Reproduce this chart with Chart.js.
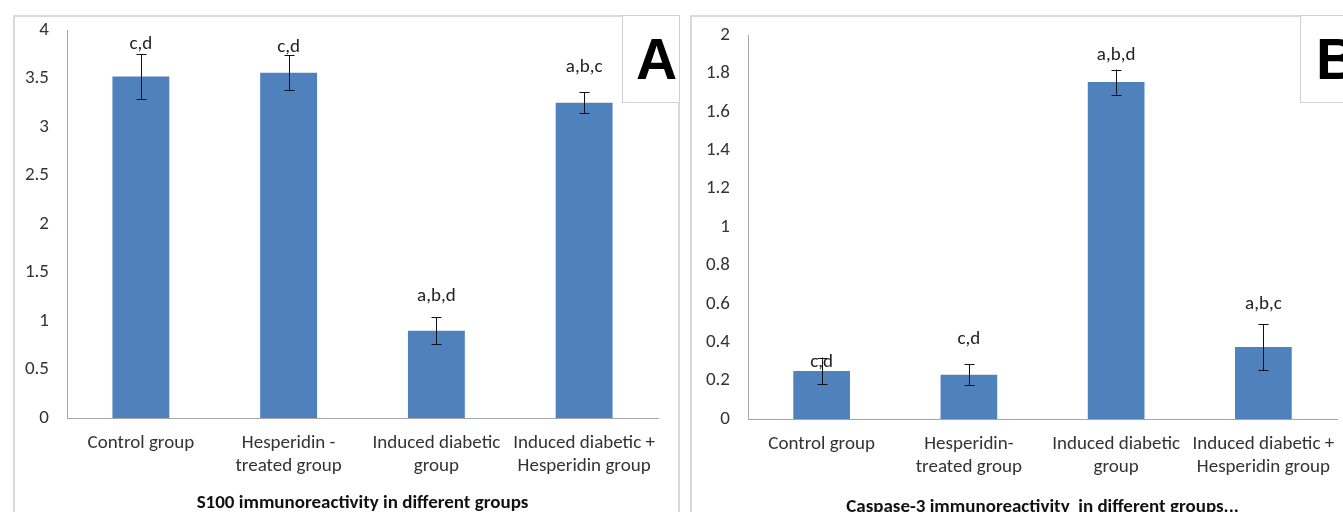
<!DOCTYPE html>
<html>
<head>
<meta charset="utf-8">
<script src="https://cdn.jsdelivr.net/npm/chart.js@4"></script>
<style>
  body { margin:0; width:1343px; height:512px; overflow:hidden; background:#fff; position:relative; }
  .frame { position:absolute; border:2px solid #d9d9d9; box-sizing:border-box; }
  .tag { position:absolute; background:#fff; border:1px solid #d0d0d0; box-sizing:border-box;
         font:bold 57px "Liberation Sans", Arial, sans-serif; color:#000; line-height:86px; }
  canvas { position:absolute; }
</style>
</head>
<body>
<div class="frame" style="left:13px;top:15px;width:667px;height:520px"></div>
<div class="frame" style="left:690px;top:15px;width:680px;height:520px"></div>
<canvas id="chartA" style="left:14px;top:0px"></canvas>
<canvas id="chartB" style="left:691px;top:0px"></canvas>
<div class="tag" style="left:622px;top:15px;width:58px;height:88px;padding-left:13px">A</div>
<div class="tag" style="left:1300px;top:15px;width:60px;height:88px;padding-left:15px">B</div>
<script>
var groupsA = [['Control group'], ['Hesperidin -', 'treated group'], ['Induced diabetic', 'group'], ['Induced diabetic +', 'Hesperidin group']];
var groupsB = [['Control group'], ['Hesperidin-', 'treated group'], ['Induced diabetic', 'group'], ['Induced diabetic +', 'Hesperidin group']];

var s100 = [3.52, 3.56, 0.90, 3.25];
var s100Err = [0.23, 0.18, 0.14, 0.11];
var s100Marks = ['c,d', 'c,d', 'a,b,d', 'a,b,c'];

var casp = [0.25, 0.23, 1.755, 0.375];
var caspErr = [0.07, 0.055, 0.065, 0.12];
var caspMarks = ['c,d', 'c,d', 'a,b,d', 'a,b,c'];

var fontFam = 'Carlito, Calibri, "Open Sans", sans-serif';

// error bars and the letters above them
var errPlugin = {
  id: 'errBars',
  afterDatasetsDraw: function(chart, args, opts) {
    var ctx = chart.ctx;
    var y = chart.scales.y;
    var meta = chart.getDatasetMeta(0);
    ctx.save();
    ctx.strokeStyle = '#111';
    ctx.lineWidth = 1;
    meta.data.forEach(function(bar, i) {
      var v = chart.data.datasets[0].data[i];
      var top = y.getPixelForValue(v + opts.err[i]);
      var bot = y.getPixelForValue(v - opts.err[i]);
      var x = Math.round(bar.x) + 0.5;
      ctx.beginPath();
      ctx.moveTo(x, top); ctx.lineTo(x, bot);
      ctx.moveTo(x - 5, Math.round(top) + 0.5); ctx.lineTo(x + 5, Math.round(top) + 0.5);
      ctx.moveTo(x - 5, Math.round(bot) + 0.5); ctx.lineTo(x + 5, Math.round(bot) + 0.5);
      ctx.stroke();
      ctx.fillStyle = '#222';
      ctx.font = '19px ' + fontFam;
      ctx.textAlign = 'center';
      ctx.textBaseline = 'middle';
      ctx.fillText(opts.marks[i], bar.x, top - opts.gap[i]);
    });
    ctx.restore();
  }
};

function makeChart(id, w, h, groups, values, err, marks, gap, ymax, step, yw, xh, padR, padT, title, titlePad) {
  var cv = document.getElementById(id);
  cv.width = w; cv.height = h;
  cv.style.width = w + 'px'; cv.style.height = h + 'px';
  return new Chart(cv, {
    type: 'bar',
    data: {
      labels: groups,
      datasets: [{
        data: values,
        backgroundColor: '#4f81bd',
        categoryPercentage: 1,
        barPercentage: 0.385
      }]
    },
    options: {
      responsive: false,
      animation: false,
      layout: { padding: { top: padT, right: padR, left: 0, bottom: 0 } },
      plugins: {
        legend: { display: false },
        tooltip: { enabled: false },
        errBars: { err: err, marks: marks, gap: gap }
      },
      scales: {
        x: {
          grid: { display: false, drawTicks: false },
          border: { display: true, color: '#a6a6a6', width: 1 },
          ticks: { color: '#333', padding: 14, maxRotation: 0, autoSkip: false,
                   font: { family: fontFam, size: 19, lineHeight: 1.2 } },
          title: { display: true, text: title, color: '#111', padding: { top: 0, bottom: titlePad },
                   font: { family: fontFam, size: 19, weight: 'bold' } },
          afterFit: function(s) { s.height = xh; }
        },
        y: {
          min: 0, max: ymax,
          grid: { display: false, drawTicks: false },
          border: { display: true, color: '#a6a6a6', width: 1 },
          ticks: { stepSize: step, color: '#333', padding: 18,
                   font: { family: fontFam, size: 19 },
                   callback: function(v) { return String(Math.round(v * 10) / 10); } },
          afterFit: function(s) { s.width = yw; }
        }
      }
    },
    plugins: [errPlugin]
  });
}

makeChart('chartA', 665, 516, groupsA, s100, s100Err, s100Marks, [10, 8, 21, 25],
          4, 0.5, 53, 98, 21, 30, 'S100 immunoreactivity in different groups', 1);
makeChart('chartB', 690, 526, groupsB, casp, caspErr, caspMarks, [-5, 25, 14, 20],
          2, 0.2, 57, 107, 44, 35, 'Caspase-3 immunoreactivity  in different groups...', 7);
</script>
</body>
</html>
